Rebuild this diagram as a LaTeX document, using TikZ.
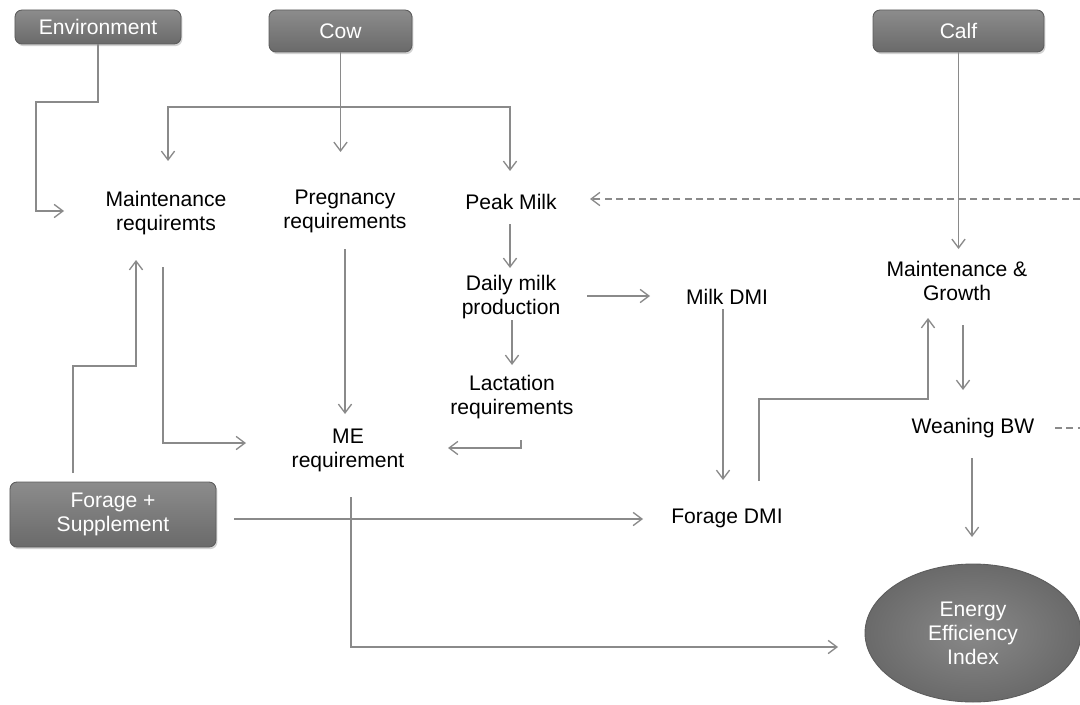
\documentclass[tikz,border=0pt]{standalone}
\usepackage{fontspec}
\setmainfont{Liberation Sans}
\usetikzlibrary{arrows.meta,shadows,shapes.geometric}

\definecolor{boxtop}{HTML}{8C8C8C}
\definecolor{boxbot}{HTML}{6A6A6A}
\definecolor{boxedge}{HTML}{5C5C5C}
\definecolor{linegray}{HTML}{8A8A8A}

\begin{document}
\begin{tikzpicture}[x=0.2mm,y=-0.2mm,
        box/.style={rectangle, rounded corners=4pt, draw=boxedge, line width=.5pt,
            top color=boxtop, bottom color=boxbot, text=white, align=center,
            drop shadow={shadow xshift=.8pt, shadow yshift=-1.2pt, fill=black!35},
            font=\fontsize{12}{13.6}\selectfont},
        lbl/.style={align=center, inner sep=1pt, font=\fontsize{12}{13.6}\selectfont},
        conn/.style={draw=linegray, line width=.75pt, -{Straight Barb[length=5pt,width=7.5pt]}},
        line/.style={draw=linegray, line width=.75pt},
        dashconn/.style={conn, dash pattern=on 4pt off 2.5pt}]
        \useasboundingbox (0,0) rectangle (1080,704);
        %inputs
        \node[box, minimum width=33.2mm, minimum height=6.8mm] (env) at (98,27) {Environment};
        \node[box, minimum width=28.6mm, minimum height=8.4mm] (cow) at (340.5,31) {Cow};
        \node[box, minimum width=34.2mm, minimum height=8.4mm] (calf) at (958.5,31) {Calf};
        \node[box, minimum width=41.2mm, minimum height=13mm] (fsup) at (113,514.5) {Forage +\\Supplement};
        %output
        \node[ellipse, minimum width=43.2mm, minimum height=27.6mm, draw=boxedge, line width=.5pt,
            inner color=boxtop!90!boxbot, outer color=boxbot, text=white, align=center,
            font=\fontsize{12}{13.6}\selectfont] (eei) at (973,633) {Energy\\Efficiency\\Index};
        %cow side
        \node[lbl] (mreq) at (166,213) {Maintenance\\requiremts};
        \node[lbl] (preq) at (345,211) {Pregnancy\\requirements};
        \node[lbl] (peak) at (511,202) {Peak Milk};
        \node[lbl] (daily) at (511,297) {Daily milk\\production};
        \node[lbl] (lact) at (512,397) {Lactation\\requirements};
        \node[lbl] (mereq) at (348,450) {ME\\requirement};
        %intake
        \node[lbl] (milkdmi) at (727,297) {Milk DMI};
        \node[lbl] (fdmi) at (727,518) {Forage DMI};
        %calf side
        \node[lbl] (mg) at (957,281) {Maintenance \&\\Growth};
        \node[lbl] (wbw) at (973,428) {Weaning BW};

        %free ends
        \coordinate (envbend) at (36,102);
        \coordinate (mreqenv) at (64,211);
        \coordinate (cowjoin) at (340.5,107);
        \coordinate (mreqcow) at (168,161);
        \coordinate (preqcow) at (340.5,152);
        \coordinate (peakcow) at (510,171);
        \coordinate (mgcalf) at (958.5,249);
        \coordinate (dashin) at (1080,199);
        \coordinate (peakdash) at (590,199);
        \coordinate (peakout) at (510,224);
        \coordinate (dailyin) at (510,268);
        \coordinate (dailyout) at (587,296);
        \coordinate (milkin) at (650,296);
        \coordinate (dailydown) at (512,320);
        \coordinate (lactin) at (512,365);
        \coordinate (lactout) at (521,440);
        \coordinate (melact) at (448,448);
        \coordinate (mreqout) at (163,267);
        \coordinate (memreq) at (246,443);
        \coordinate (preqout) at (345,249);
        \coordinate (mepreq) at (345,414);
        \coordinate (fsupup) at (73,473);
        \coordinate (fsupbend) at (136,366);
        \coordinate (mreqfsup) at (136,260);
        \coordinate (fsupright) at (234,519);
        \coordinate (fdmiin) at (643,519);
        \coordinate (meout) at (351,497);
        \coordinate (eeime) at (838,647);
        \coordinate (milkout) at (723,309);
        \coordinate (fdmimilk) at (723,480);
        \coordinate (fdmiout) at (759,481);
        \coordinate (fdmibend) at (928,399);
        \coordinate (mgfdmi) at (928,318);
        \coordinate (mgout) at (963,325);
        \coordinate (wbwin) at (963,390);
        \coordinate (wbwright) at (1055,428);
        \coordinate (dashout) at (1080,428);
        \coordinate (wbwout) at (972,458);
        \coordinate (eeiwbw) at (972,537);

        %environment
        \draw[conn] (env.south) |- (envbend) |- (mreqenv);
        %cow branches
        \draw[line] (cow.south) -- (cowjoin);
        \draw[conn] (cowjoin) -| (mreqcow);
        \draw[conn] (cowjoin) -- (preqcow);
        \draw[conn] (cowjoin) -| (peakcow);
        %calf
        \draw[conn] (calf.south) -- (mgcalf);
        %feedback from weaning BW
        \draw[dashconn] (dashin) -- (peakdash);
        \draw[line, dash pattern=on 4pt off 2.5pt] (wbwright) -- (dashout);
        %milk
        \draw[conn] (peakout) -- (dailyin);
        \draw[conn] (dailyout) -- (milkin);
        \draw[conn] (dailydown) -- (lactin);
        \draw[conn] (lactout) |- (melact);
        %ME requirement
        \draw[conn] (mreqout) |- (memreq);
        \draw[conn] (preqout) -- (mepreq);
        %forage + supplement
        \draw[conn] (fsupup) |- (fsupbend) -- (mreqfsup);
        \draw[conn] (fsupright) -- (fdmiin);
        %to the index
        \draw[conn] (meout) |- (eeime);
        \draw[conn] (milkout) -- (fdmimilk);
        \draw[conn] (fdmiout) |- (fdmibend) -- (mgfdmi);
        \draw[conn] (mgout) -- (wbwin);
        \draw[conn] (wbwout) -- (eeiwbw);
    \end{tikzpicture}
\end{document}
